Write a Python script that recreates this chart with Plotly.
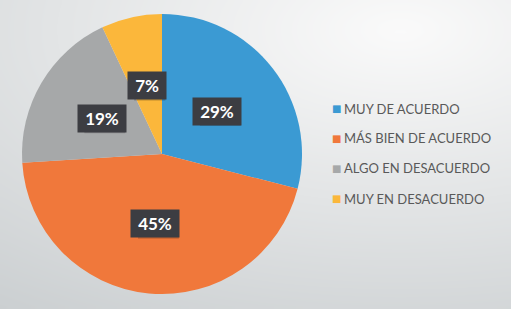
import numpy as np
import plotly.graph_objects as go

labels = ["MUY DE ACUERDO", "MÁS BIEN DE ACUERDO", "ALGO EN DESACUERDO", "MUY EN DESACUERDO"]
values = [29, 45, 19, 7]
colors = ["#3b9ad3", "#f0783b", "#a6a8a9", "#fbb73b"]

W, H = 512, 309
cx, cy, R = 162, 154, 140  # pie centre / radius in px

fig = go.Figure()

# background gradient
gx = np.linspace(1, 507, 60)
gy = np.linspace(1, 306, 40)
X, Y = np.meshgrid(gx, gy)
Z = np.sqrt((X - 400) ** 2 + ((Y - 30) * 2.0) ** 2) / 686.0
fig.add_trace(go.Heatmap(x=gx, y=gy, z=Z, zmin=0, zmax=1, zsmooth="best",
                         colorscale=[[0, "#fafafa"], [1, "#cbcfd1"]],
                         showscale=False, hoverinfo="skip"))

dx0, dx1 = (cx - R) / W, (cx + R) / W
dy0, dy1 = (H - cy - R) / H, (H - cy + R) / H
fig.add_trace(go.Pie(labels=labels, values=values, sort=False, direction="clockwise",
                     rotation=0, marker=dict(colors=colors, line=dict(width=0)),
                     textinfo="none", showlegend=False,
                     domain=dict(x=[dx0, dx1], y=[dy0, dy1])))

# percentage labels
pcx = (dx0 + dx1) / 2 * W
pcy = (dy0 + dy1) / 2 * H
rad = min((dx1 - dx0) * W, (dy1 - dy0) * H) / 2
tot = sum(values)
cum = 0
annotations = []
shapes = [dict(type="rect", xref="paper", yref="paper", x0=323 / W, x1=498 / W,
               y0=(H - 213) / H, y1=(H - 94) / H, fillcolor="rgba(255,255,255,0.55)",
               line=dict(width=0), layer="below")]
for v in values:
    mid = (cum + v / 2) / tot * 2 * np.pi
    cum += v
    px = pcx + 0.5 * rad * np.sin(mid)
    py = pcy + 0.5 * rad * np.cos(mid)
    s = f"{round(v / tot * 100)}%"
    half = 6 + 4.8 * len(s)
    ptop = H - py
    shapes.append(dict(type="rect", xref="x", yref="y",
                       x0=px - half + 3, x1=px + half + 3, y0=ptop - 12 + 3, y1=ptop + 12 + 3,
                       fillcolor="rgba(0,0,0,0.18)", line=dict(width=0), layer="above"))
    annotations.append(dict(x=px / W, y=py / H, xref="paper", yref="paper",
                            xanchor="center", yanchor="middle",
                            text="<b>\u00a0" + s + "\u00a0</b>",
                            showarrow=False, bgcolor="#3c3d42", borderpad=3,
                            font=dict(family="Lato", size=17, color="white")))

# legend
leg_y = [108.5, 138, 168, 198.5]
for lab, col, ly in zip(labels, colors, leg_y):
    annotations.append(dict(x=336 / W, y=(H - ly) / H, xref="paper", yref="paper", text="■",
                            showarrow=False, xanchor="center", yanchor="middle",
                            font=dict(family="DejaVu Sans", size=10, color=col)))
    annotations.append(dict(x=342 / W, y=(H - ly) / H, xref="paper", yref="paper", text=lab,
                            showarrow=False, xanchor="left", yanchor="middle",
                            font=dict(family="Lato", size=13, color="#595959")))

fig.update_layout(
    width=W, height=H, margin=dict(l=0, r=0, t=0, b=0),
    paper_bgcolor="white", plot_bgcolor="white",
    xaxis=dict(range=[0, W], visible=False, domain=[0, 1], fixedrange=True),
    yaxis=dict(range=[H, 0], visible=False, domain=[0, 1], fixedrange=True),
    annotations=annotations,
    shapes=shapes,
)

fig.write_html("out.html", config={"displayModeBar": False},
               post_script="document.body.style.margin='0';")
